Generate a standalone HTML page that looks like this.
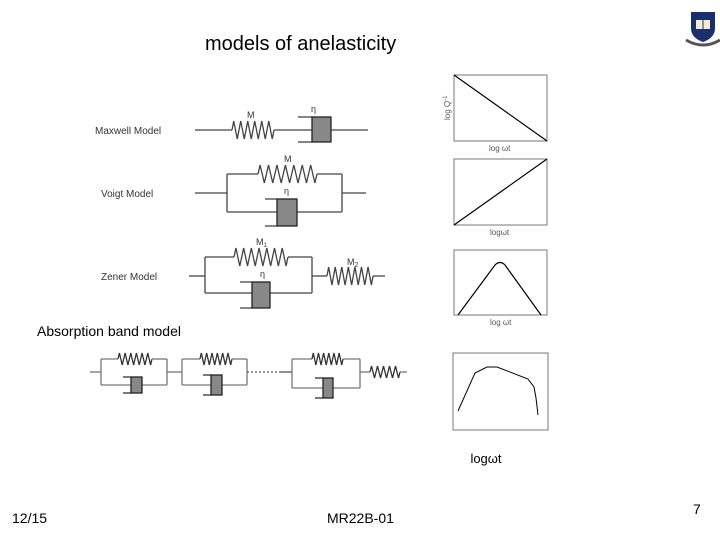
<!DOCTYPE html>
<html><head><meta charset="utf-8"><style>
html,body{margin:0;padding:0;background:#fff;}
svg{display:block;font-family:"Liberation Sans",Arial,sans-serif;}
</style></head><body>
<svg id="s" width="720" height="540" viewBox="0 0 720 540" xmlns="http://www.w3.org/2000/svg">
<rect width="720" height="540" fill="#fff"/>
<text x="205" y="50" font-size="20" fill="#000">models of anelasticity</text>
<text x="37" y="336" font-size="14" fill="#000">Absorption band model</text>
<text x="12" y="523" font-size="14" fill="#000">12/15</text>
<text x="327" y="523" font-size="14" fill="#000">MR22B-01</text>
<text x="693" y="514" font-size="14" fill="#000">7</text>
<text x="486" y="463" font-size="13" fill="#000" text-anchor="middle">logωt</text>

<!-- logo -->
<g transform="translate(686,10)">
<path d="M5 2 H29 V18 Q29 28 17 32 Q5 28 5 18 Z" fill="#1a2f6e"/>
<rect x="10" y="10" width="14" height="9" fill="#f4ecd0"/>
<line x1="17" y1="10" x2="17" y2="19" stroke="#1a2f6e" stroke-width="1"/>
<path d="M0 30 Q17 40 34 30" stroke="#555" stroke-width="3" fill="none"/>
</g>

<g font-size="10" fill="#333">
<text x="95" y="134">Maxwell Model</text>
<text x="101" y="197">Voigt Model</text>
<text x="101" y="280">Zener Model</text>
</g>
<g font-size="9" fill="#333">
<text x="247" y="118">M</text><text x="311" y="112">η</text>
<text x="284" y="162">M</text><text x="284" y="194">η</text>
<text x="256" y="245">M<tspan font-size="6" dy="2">1</tspan></text><text x="260" y="277">η</text>
<text x="347" y="265">M<tspan font-size="7" dy="2">2</tspan></text>
</g>

<g id="mech" stroke="#444" stroke-width="1.3" fill="none"></g>

<!-- graphs -->
<g stroke="#777" stroke-width="1" fill="none">
<rect x="454" y="75" width="93" height="66"/>
<rect x="454" y="159" width="93" height="66"/>
<rect x="454" y="250" width="93" height="65"/>
<rect x="453" y="353" width="95" height="77"/>
</g>
<g stroke="#000" stroke-width="1.2" fill="none">
<line x1="454" y1="75" x2="547" y2="141"/>
<line x1="454" y1="225" x2="547" y2="159"/>
<path d="M458 315 L495 265 Q500 260 505 265 L541 315"/>
<path d="M458 411 L475 373 L487 367 L497 367 L528 379 L534 387 L536 398 L538 415" stroke-width="1"/>
</g>
<g font-size="8" fill="#555">
<text x="489" y="151">log ωt</text>
<text x="490" y="235">logωt</text>
<text x="490" y="325">log ωt</text>
<text transform="translate(450,120) rotate(-90)">log Q<tspan font-size="6" dy="-3">-1</tspan></text>
</g>
</svg>
<script>
var g=document.getElementById('mech');var NS="http://www.w3.org/2000/svg";
function el(t,a,p){var e=document.createElementNS(NS,t);for(var k in a)e.setAttribute(k,a[k]);(p||g).appendChild(e);return e;}
function L(x1,y1,x2,y2,c){el('line',{x1:x1,y1:y1,x2:x2,y2:y2,stroke:c||'#444'});}
function S(x1,x2,y,n,h,c){var d='M'+x1+' '+y;var w=(x2-x1)/(2*n);for(var i=0;i<n;i++){d+=' L'+(x1+w*(2*i+0.5))+' '+(y-h)+' L'+(x1+w*(2*i+1.5))+' '+(y+h);}d+=' L'+x2+' '+y;el('path',{d:d,stroke:c||'#444'});}
function D(bx,x1,x2,y1,y2,c){L(bx,y1,x1,y1,c);L(bx,y2,x1,y2,c);el('rect',{x:x1,y:y1,width:x2-x1,height:y2-y1,fill:'#888',stroke:'#222'});}
// Maxwell
L(195,130,232,130);S(232,274,130,6,9);L(274,130,312,130);D(298,312,331,117,142);L(331,130,368,130);
// Voigt
L(195,193,227,193);L(227,174,227,212);L(342,174,342,212);L(342,193,366,193);
L(227,174,258,174);S(258,317,174,7,9);L(317,174,342,174);
L(227,212,277,212);L(297,212,342,212);D(265,277,297,199,226);
// Zener
L(189,276,205,276);L(205,257,205,293);L(312,257,312,293);
L(205,257,234,257);S(234,288,257,7,9);L(288,257,312,257);
L(205,293,252,293);L(270,293,312,293);D(240,252,270,282,308);
L(312,276,327,276);S(327,373,276,7,9);L(373,276,385,276);
// absorption band
var c='#777';
function U(a,b,s1,s2,bx1,bx2,by1,by2,top,bot){L(a,top,a,bot,c);L(b,top,b,bot,c);L(a,top,s1,top,c);S(s1,s2,top,6,6,'#333');L(s2,top,b,top,c);L(a,bot,bx1,bot,c);L(bx2,bot,b,bot,c);D(bx1-8,bx1,bx2,by1,by2,'#333');}
L(90,372,101,372,c);U(101,167,118,152,131,142,377,393,359,385);L(167,372,182,372,c);
U(182,247,200,232,211,222,375,395,359,385);
el('line',{x1:247,y1:372,x2:280,y2:372,stroke:'#555','stroke-dasharray':'2,2'});L(280,372,292,372,'#555');
U(292,360,312,343,323,333,378,398,359,388);L(360,372,370,372,c);S(370,400,372,5,6,'#333');L(400,372,407,372,c);
</script>
</body></html>
